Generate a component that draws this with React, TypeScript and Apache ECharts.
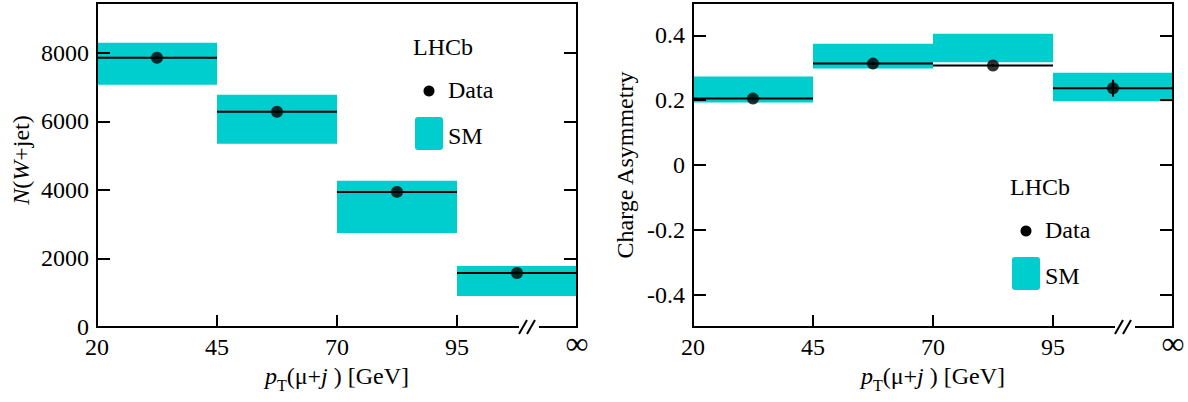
import React, { useEffect, useRef } from "react";
import * as echarts from "echarts";

const xTickLabels = ["20", "45", "70", "95", "∞"];
const bins = [0, 1, 2, 3];

// Left panel: N(W+jet)
const leftSMLow = [7066, 5343, 2745, 905];
const leftSMHigh = [8292, 6774, 4263, 1781];
const leftData = [7854, 6277, 3940, 1577];
const leftDataErr = [40, 40, 40, 40];
const leftYTicks = [0, 2000, 4000, 6000, 8000];

// Right panel: Charge asymmetry
const rightSMLow = [0.193, 0.298, 0.317, 0.197];
const rightSMHigh = [0.273, 0.374, 0.405, 0.285];
const rightData = [0.205, 0.313, 0.307, 0.237];
const rightDataErr = [0.004, 0.004, 0.004, 0.026];
const rightYTicks = [-0.4, -0.2, 0, 0.2, 0.4];

const FONT = "Liberation Serif";
const FS = 24;
const CYAN = "#00CDCD";

const xTitleRich = {
  i: { fontFamily: FONT, fontSize: FS, fontStyle: "italic", color: "#000", verticalAlign: "top", lineHeight: 26 },
  n: { fontFamily: FONT, fontSize: FS, color: "#000", verticalAlign: "top", lineHeight: 26 },
  sub: { fontFamily: FONT, fontSize: 16, color: "#000", verticalAlign: "top", lineHeight: 17, padding: [13, 0, 0, 0] },
};
const xTitle = "{i|p}{sub|T}{n|(μ+}{i|j}{n| ) [GeV]}";

export default function App() {
  const ref = useRef<HTMLDivElement>(null);
  useEffect(() => {
    if (!ref.current) return;
    const chart = echarts.init(ref.current, undefined, { renderer: "svg" });

    const makeX = (gridIndex: number) => ({
      type: "value",
      gridIndex,
      min: 0,
      max: 4,
      z: 5,
      axisLine: { show: true, onZero: false, lineStyle: { color: "#000", width: 2 } },
      axisTick: { show: true, inside: true, length: 12, customValues: [1, 2, 3], lineStyle: { color: "#000", width: 2 } },
      axisLabel: {
        customValues: [0, 1, 2, 3, 4],
        formatter: (v: number) => {
          const i = Math.round(v);
          return i === 4 ? "{inf|" + xTickLabels[i] + "}" : xTickLabels[i];
        },
        fontFamily: FONT,
        fontSize: FS,
        color: "#000",
        margin: 8,
        rich: { inf: { fontFamily: FONT, fontSize: 32, color: "#000", padding: [-8, 0, 0, 0] } },
      },
      splitLine: { show: false },
      name: xTitle,
      nameLocation: "middle",
      nameGap: 37,
      nameTextStyle: { rich: xTitleRich },
    });

    const makeYLeft = (gridIndex: number, min: number, max: number, ticks: number[], name: string, gap: number, rich: any, pad: number[]) => ({
      type: "value",
      gridIndex,
      min,
      max,
      z: 5,
      position: "left",
      axisLine: { show: true, onZero: false, lineStyle: { color: "#000", width: 2 } },
      axisTick: { show: true, inside: true, length: 13, customValues: ticks, lineStyle: { color: "#000", width: 2 } },
      axisLabel: {
        customValues: ticks,
        formatter: (v: number) => String(Math.round(v * 1000) / 1000),
        fontFamily: FONT,
        fontSize: FS,
        color: "#000",
        margin: 8,
      },
      splitLine: { show: false },
      name,
      nameLocation: "middle",
      nameRotate: 90,
      nameGap: gap,
      nameTextStyle: { fontFamily: FONT, fontSize: FS, color: "#000", rich, padding: pad },
    });

    const makeYRight = (gridIndex: number, min: number, max: number, ticks: number[]) => ({
      type: "value",
      gridIndex,
      min,
      max,
      z: 5,
      position: "right",
      axisLine: { show: true, onZero: false, lineStyle: { color: "#000", width: 2 } },
      axisTick: { show: true, inside: true, length: 13, customValues: ticks, lineStyle: { color: "#000", width: 2 } },
      axisLabel: { show: false },
      splitLine: { show: false },
    });

    const boxSeries = (xi: number, yi: number, lo: number[], hi: number[]) => ({
      type: "custom",
      xAxisIndex: xi,
      yAxisIndex: yi,
      z: 1,
      data: bins.map((b) => [b, lo[b], hi[b]]),
      renderItem: (params: any, api: any) => {
        const p0 = api.coord([api.value(0), api.value(2)]);
        const p1 = api.coord([api.value(0) + 1, api.value(1)]);
        return {
          type: "rect",
          shape: { x: p0[0], y: p0[1], width: p1[0] - p0[0], height: p1[1] - p0[1] },
          style: { fill: CYAN },
        };
      },
    });

    const lineSeries = (xi: number, yi: number, vals: number[]) => ({
      type: "custom",
      xAxisIndex: xi,
      yAxisIndex: yi,
      z: 2,
      data: bins.map((b) => [b, vals[b]]),
      renderItem: (params: any, api: any) => {
        const p0 = api.coord([api.value(0), api.value(1)]);
        const p1 = api.coord([api.value(0) + 1, api.value(1)]);
        return {
          type: "line",
          shape: { x1: p0[0], y1: p0[1], x2: p1[0], y2: p1[1] },
          style: { stroke: "#000", lineWidth: 2 },
        };
      },
    });

    const errSeries = (xi: number, yi: number, vals: number[], errs: number[]) => ({
      type: "custom",
      xAxisIndex: xi,
      yAxisIndex: yi,
      z: 3,
      data: bins.map((b) => [b + 0.5, vals[b] - errs[b], vals[b] + errs[b]]),
      renderItem: (params: any, api: any) => {
        const p0 = api.coord([api.value(0), api.value(1)]);
        const p1 = api.coord([api.value(0), api.value(2)]);
        return {
          type: "line",
          shape: { x1: p0[0], y1: p0[1], x2: p1[0], y2: p1[1] },
          style: { stroke: "#000", lineWidth: 2 },
        };
      },
    });

    const dotSeries = (xi: number, yi: number, vals: number[]) => ({
      type: "scatter",
      xAxisIndex: xi,
      yAxisIndex: yi,
      z: 4,
      symbol: "circle",
      symbolSize: 12,
      itemStyle: { color: "#000" },
      data: bins.map((b) => [b + 0.5, vals[b]]),
    });

    const breakSeries = (xi: number, yi: number, yMin: number) => ({
      type: "custom",
      xAxisIndex: xi,
      yAxisIndex: yi,
      z: 10,
      clip: false,
      data: [[3.6, yMin]],
      renderItem: (params: any, api: any) => {
        const p = api.coord([api.value(0), api.value(1)]);
        const cx = p[0];
        const cy = p[1];
        return {
          type: "group",
          children: [
            { type: "rect", shape: { x: cx - 10, y: cy - 3, width: 20, height: 6 }, style: { fill: "#fff" } },
            { type: "line", shape: { x1: cx - 10, y1: cy + 7, x2: cx - 2, y2: cy - 7 }, style: { stroke: "#000", lineWidth: 2 } },
            { type: "line", shape: { x1: cx - 2, y1: cy + 7, x2: cx + 6, y2: cy - 7 }, style: { stroke: "#000", lineWidth: 2 } },
          ],
        };
      },
    });

    const legendGroup = (lx: number, ly: number) => [
      { type: "text", left: lx, top: ly - 13, style: { text: "LHCb", fontFamily: FONT, fontSize: FS, fill: "#000" } },
      { type: "circle", shape: { cx: lx + 16, cy: ly + 43, r: 5.5 }, style: { fill: "#000" } },
      { type: "text", left: lx + 35, top: ly + 30, style: { text: "Data", fontFamily: FONT, fontSize: FS, fill: "#000" } },
      { type: "rect", shape: { x: lx + 2, y: ly + 69, width: 28, height: 33, r: 3 }, style: { fill: CYAN } },
      { type: "text", left: lx + 35, top: ly + 76, style: { text: "SM", fontFamily: FONT, fontSize: FS, fill: "#000" } },
    ];

    chart.setOption({
      animation: false,
      backgroundColor: "#fff",
      textStyle: { fontFamily: FONT },
      grid: [
        { left: 97, top: 3, width: 480, height: 324, show: true, borderColor: "#000", borderWidth: 2, backgroundColor: "transparent" },
        { left: 693, top: 3, width: 480, height: 324, show: true, borderColor: "#000", borderWidth: 2, backgroundColor: "transparent" },
      ],
      xAxis: [makeX(0), makeX(1)],
      yAxis: [
        makeYLeft(0, 0, 9450, leftYTicks, "{i|N}{n|(}{i|W}{n|+jet)}", 64, {
          i: { fontFamily: FONT, fontSize: FS, fontStyle: "italic", color: "#000" },
          n: { fontFamily: FONT, fontSize: FS, color: "#000" },
        }, [0, 0, 0, 10]),
        makeYRight(0, 0, 9450, leftYTicks),
        makeYLeft(1, -0.5, 0.5, rightYTicks, "Charge Asymmetry", 56, undefined, [0, 0, 0, 0]),
        makeYRight(1, -0.5, 0.5, rightYTicks),
      ],
      series: [
        boxSeries(0, 0, leftSMLow, leftSMHigh),
        lineSeries(0, 0, leftData),
        errSeries(0, 0, leftData, leftDataErr),
        dotSeries(0, 0, leftData),
        breakSeries(0, 0, 0),
        boxSeries(1, 2, rightSMLow, rightSMHigh),
        lineSeries(1, 2, rightData),
        errSeries(1, 2, rightData, rightDataErr),
        dotSeries(1, 2, rightData),
        breakSeries(1, 2, -0.5),
      ],
      graphic: [...legendGroup(413, 48), ...legendGroup(1010, 188)],
    });
    return () => chart.dispose();
  }, []);
  return <div ref={ref} style={{ position: "fixed", left: 0, top: 0, width: 1188, height: 402 }} />;
}
